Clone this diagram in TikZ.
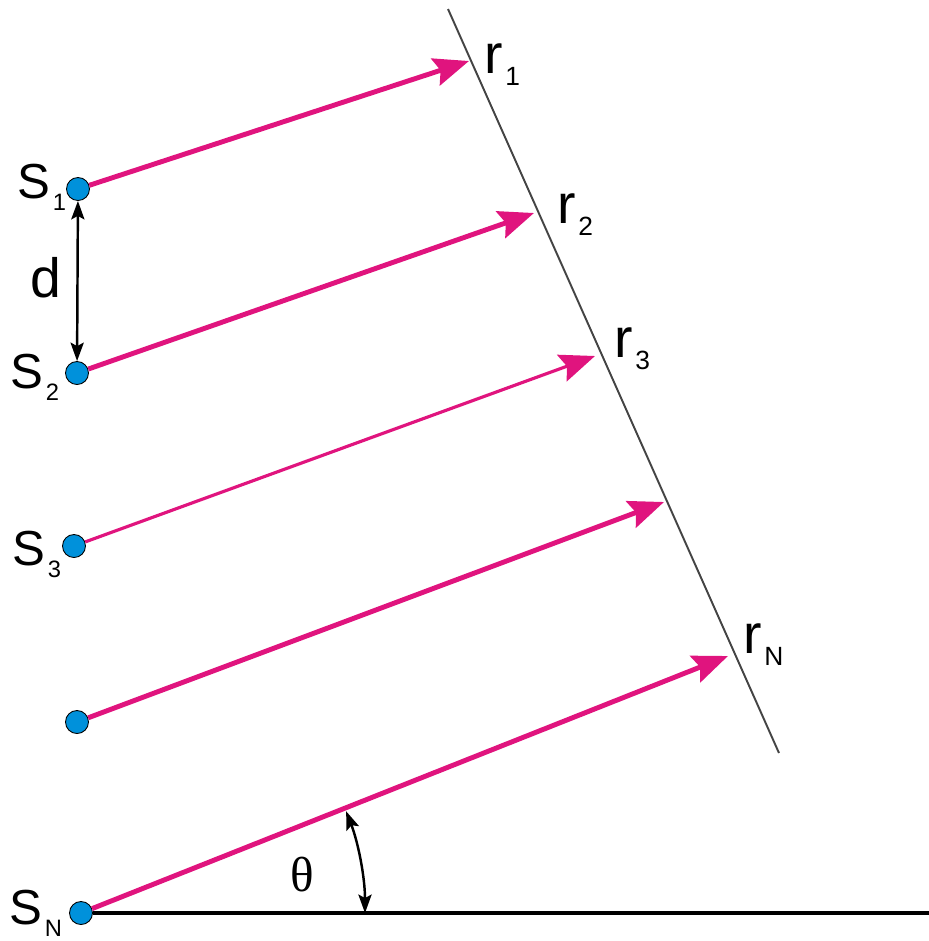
\documentclass[tikz,border=0pt]{standalone}
\usepackage{fontspec}
\setmainfont{Liberation Sans}
\newfontfamily\thetafont{Liberation Serif}
\usetikzlibrary{arrows.meta}
\definecolor{rayPink}{HTML}{E0147E}
\definecolor{srcBlue}{HTML}{0091DB}
\definecolor{frontGrey}{HTML}{444444}
\newcommand\lblsub[3][13.5]{#2\kern1.5pt\raisebox{-7pt}{\fontsize{#1}{#1}\selectfont #3}}

\begin{document}
\begin{tikzpicture}[x=0.02cm, y=-0.02cm,
  src/.style={circle, draw=black, line width=0.5pt, fill=srcBlue, minimum size=0.46cm, inner sep=0pt},
  ray/.style={draw=rayPink, line width=2.8pt, -{Stealth[length=20pt, width=16pt, inset=3pt]}},
  dim/.style={draw=black, line width=1.4pt, {Stealth[length=10.5pt, width=7.5pt, inset=2pt]}-{Stealth[length=10.5pt, width=7.5pt, inset=2pt]}},
  slbl/.style={anchor=base west, inner sep=0pt, font=\fontsize{28}{28}\selectfont},
  rlbl/.style={anchor=base west, inner sep=0pt, font=\fontsize{31.5}{31.5}\selectfont}]
  \useasboundingbox (0,0) rectangle (929,941);
  \draw[frontGrey, line width=1.1pt] (448,9) coordinate (wTop) -- (779,753) coordinate (wBot);
  \node[src] (s1) at (78,189) {};
  \node[src] (s2) at (77,373) {};
  \node[src] (s3) at (74,546) {};
  \node[src] (s4) at (77,722) {};
  \node[src] (sN) at (81,913) {};
  \coordinate (h1) at (469,61);
  \coordinate (h2) at (534,213);
  \coordinate (h3) at (595,356);
  \coordinate (h4) at (664,502);
  \coordinate (hN) at (728,656);
  \coordinate (bEnd) at (929,913);
  \draw[black, line width=1.8pt] (sN) -- (bEnd);
  \draw[ray] (s1) -- (h1);
  \draw[ray] (s2) -- (h2);
  \draw[ray, line width=1.8pt] (s3) -- (h3);
  \draw[ray] (s4) -- (h4);
  \draw[ray] (sN) -- (hN);
  \draw[dim] (s1) -- (s2);
  \draw[dim] ([shift={(0:284)}]sN.center) arc[start angle=0, end angle=-21, radius=284];
  \node[slbl] (s1l) at (17,198) {\lblsub{S}{1}};
  \node[slbl] (s2l) at (10,388) {\lblsub{S}{2}};
  \node[slbl] (s3l) at (12,565) {\lblsub{S}{3}};
  \node[slbl] (sNl) at (9,924) {\lblsub{S}{N}};
  \node[rlbl] (dl) at (30,297) {d};
  \node[rlbl] (r1l) at (484,73) {\lblsub[15]{r}{1}};
  \node[rlbl] (r2l) at (557,223) {\lblsub[15]{r}{2}};
  \node[rlbl] (r3l) at (614,357) {\lblsub[15]{r}{3}};
  \node[rlbl] (rNl) at (743,653) {\lblsub[15]{r}{N}};
  \node[inner sep=0pt, font=\thetafont\fontsize{28}{28}\selectfont] (thl) at (302,875) {θ};
\end{tikzpicture}
\end{document}
